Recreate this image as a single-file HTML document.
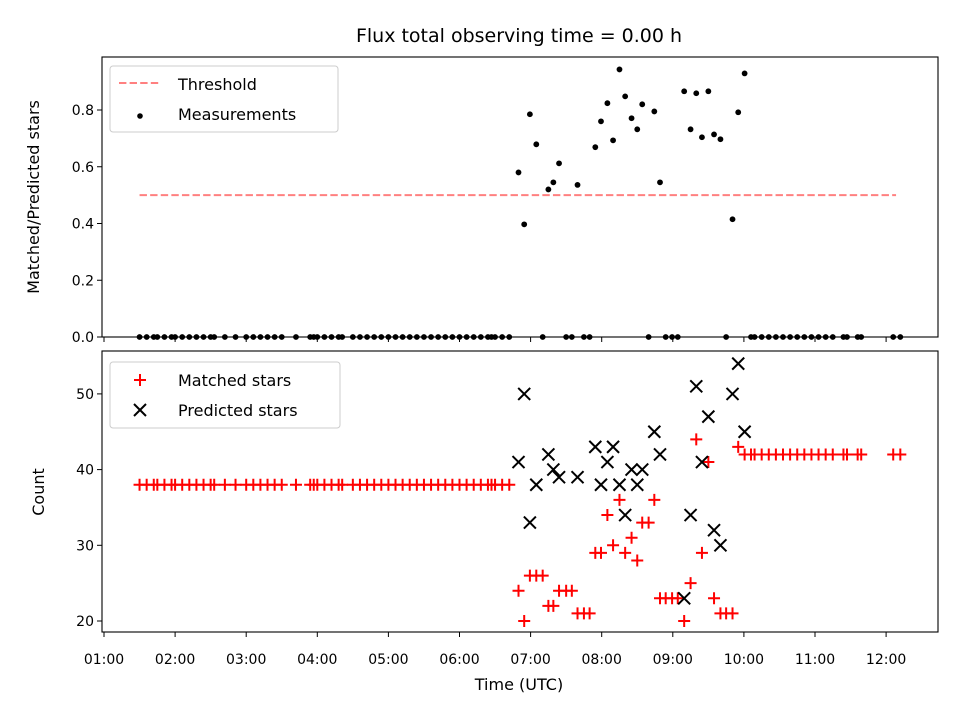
<!DOCTYPE html>
<html><head><meta charset="utf-8"><style>
body{margin:0;background:#fff;}
svg{display:block;font-family:"DejaVu Sans","Liberation Sans",sans-serif;}
</style></head><body>
<svg id="chart" width="960" height="720" viewBox="0 0 960 720"></svg>
<script>
// Observation times (hours UTC)
const times = [1.5,1.6,1.7,1.75,1.85,1.95,2.0,2.1,2.2,2.3,2.4,2.5,2.55,2.7,2.85,3.0,3.1,3.2,3.3,3.4,3.5,3.7,3.9,3.95,4.0,4.1,4.2,4.3,4.35,4.5,4.6,4.7,4.8,4.9,5.0,5.1,5.2,5.3,5.4,5.5,5.6,5.7,5.8,5.9,6.0,6.1,6.2,6.3,6.4,6.45,6.5,6.6,6.7,
 6.83,6.91,6.99,7.08,7.17,7.25,7.32,7.40,7.50,7.58,7.66,7.75,7.83,7.91,7.99,8.08,8.16,8.25,8.33,8.42,8.50,8.57,8.66,8.74,8.82,8.90,8.99,9.07,9.16,9.25,9.33,9.41,9.50,9.58,9.67,9.75,9.84,9.92,10.01,
 10.1,10.15,10.25,10.35,10.45,10.55,10.65,10.75,10.85,10.95,11.05,11.15,11.25,11.4,11.45,11.6,11.65,12.1,12.2];
const matched = [38,38,38,38,38,38,38,38,38,38,38,38,38,38,38,38,38,38,38,38,38,38,38,38,38,38,38,38,38,38,38,38,38,38,38,38,38,38,38,38,38,38,38,38,38,38,38,38,38,38,38,38,38,
 24,20,26,26,26,22,22,24,24,24,21,21,21,29,29,34,30,36,29,31,28,33,33,36,23,23,23,23,20,25,44,29,41,23,21,21,21,43,42,
 42,42,42,42,42,42,42,42,42,42,42,42,42,42,42,42,42,42,42];
const predicted = [null,null,null,null,null,null,null,null,null,null,null,null,null,null,null,null,null,null,null,null,null,null,null,null,null,null,null,null,null,null,null,null,null,null,null,null,null,null,null,null,null,null,null,null,null,null,null,null,null,null,null,null,null,
 41,50,33,38,null,42,40,39,null,null,39,null,null,43,38,41,43,38,34,40,38,40,null,45,42,null,null,null,23,34,51,41,47,32,30,null,50,54,45,
 null,null,null,null,null,null,null,null,null,null,null,null,null,null,null,null,null,null,null];
const ratio = [0,0,0,0,0,0,0,0,0,0,0,0,0,0,0,0,0,0,0,0,0,0,0,0,0,0,0,0,0,0,0,0,0,0,0,0,0,0,0,0,0,0,0,0,0,0,0,0,0,0,0,0,0,
 0.580,0.397,0.785,0.679,0,0.52,0.545,0.612,0,0,0.536,0,0,0.669,0.760,0.824,0.693,0.943,0.848,0.771,0.732,0.820,0,0.795,0.545,0,0,0,0.866,0.732,0.859,0.704,0.866,0.714,0.697,0,0.415,0.792,0.929,
 0,0,0,0,0,0,0,0,0,0,0,0,0,0,0,0,0,0,0];
const threshold = 0.5;
const xTicks = [1,2,3,4,5,6,7,8,9,10,11,12];
const topTicks = [0,0.2,0.4,0.6,0.8];
const botTicks = [20,30,40,50];

const NS="http://www.w3.org/2000/svg";
const svg=document.getElementById('chart');
function mk(tag,attrs,parent){const e=document.createElementNS(NS,tag);for(const k in attrs)e.setAttribute(k,attrs[k]);(parent||svg).appendChild(e);return e;}
const L=102,R=938, T1=57,B1=337, T2=351,B2=632;
const xs=h=>104+(h-1)*71.1;
const y1=v=>337-v*283.75;
const y2=v=>621-(v-20)*7.57;
const pad=n=>String(n).padStart(2,'0');

// title
let t=mk('text',{x:519,y:42,'text-anchor':'middle','font-size':19});
t.textContent='Flux total observing time = 0.00 h';



// top panel
const gTop=mk('g',{});


let thr=mk('line',{x1:xs(1.5),x2:xs(12.14),y1:y1(threshold),y2:y1(threshold),stroke:'#ff8080','stroke-width':2,'stroke-dasharray':'7.4,3.2'},gTop);


times.forEach((h,i)=>{
  const c=mk('circle',{cx:xs(h),cy:y1(ratio[i]),r:2.9,fill:'#000'},gTop);
  
  
});
let f1=mk('rect',{x:L,y:T1,width:R-L,height:B1-T1,fill:'none',stroke:'#000','stroke-width':1.1},gTop);


topTicks.forEach(v=>{
  mk('line',{x1:L-5,x2:L,y1:y1(v),y2:y1(v),stroke:'#000','stroke-width':1},gTop);
  const tx=mk('text',{x:L-8,y:y1(v)+5,'text-anchor':'end','font-size':14},gTop);
  tx.textContent=v.toFixed(1);
  
  
});
xTicks.forEach(h=>mk('line',{x1:xs(h),x2:xs(h),y1:B1,y2:B1+5,stroke:'#000','stroke-width':1},gTop));
let yl1=mk('text',{x:39,y:197,'text-anchor':'middle','font-size':16,transform:'rotate(-90 39 197)'});
yl1.textContent='Matched/Predicted stars';


// top legend
const lg1=mk('g',{});


mk('rect',{x:110,y:66,width:228,height:66,rx:3,fill:'#fff',stroke:'#ccc','stroke-width':1},lg1);
mk('line',{x1:119,x2:161,y1:83,y2:83,stroke:'#ff8080','stroke-width':2,'stroke-dasharray':'7.4,3.2'},lg1);
let lt=mk('text',{x:178,y:90,'font-size':16},lg1);lt.textContent='Threshold';


mk('circle',{cx:140,cy:116,r:2.8,fill:'#000'},lg1);
lt=mk('text',{x:178,y:120,'font-size':16},lg1);lt.textContent='Measurements';



// bottom panel
const gBot=mk('g',{});


function plus(x,y,p,col){mk('path',{d:`M${x-6},${y}H${x+6}M${x},${y-6}V${y+6}`,stroke:col,'stroke-width':2,fill:'none'},p);}
function cross(x,y,p){mk('path',{d:`M${x-6},${y-6}L${x+6},${y+6}M${x-6},${y+6}L${x+6},${y-6}`,stroke:'#000','stroke-width':2,fill:'none'},p);}
const gm=mk('g',{},gBot);


times.forEach((h,i)=>plus(xs(h),y2(matched[i]),gm,'#ff0000'));
const gp=mk('g',{},gBot);


times.forEach((h,i)=>{if(predicted[i]!=null)cross(xs(h),y2(predicted[i]),gp);});
let f2=mk('rect',{x:L,y:T2,width:R-L,height:B2-T2,fill:'none',stroke:'#000','stroke-width':1.1},gBot);


botTicks.forEach(v=>{
  mk('line',{x1:L-5,x2:L,y1:y2(v),y2:y2(v),stroke:'#000','stroke-width':1},gBot);
  const tx=mk('text',{x:L-8,y:y2(v)+5,'text-anchor':'end','font-size':14},gBot);
  tx.textContent=v;
  
  
});
xTicks.forEach(h=>{
  mk('line',{x1:xs(h),x2:xs(h),y1:B2,y2:B2+5,stroke:'#000','stroke-width':1},gBot);
  const tx=mk('text',{x:xs(h),y:B2+32,'text-anchor':'middle','font-size':14},gBot);
  tx.textContent=pad(h)+':00';
  
  
});
let yl2=mk('text',{x:44,y:492,'text-anchor':'middle','font-size':16,transform:'rotate(-90 44 492)'});
yl2.textContent='Count';


let xl=mk('text',{x:519,y:690,'text-anchor':'middle','font-size':16});
xl.textContent='Time (UTC)';


// bottom legend
const lg2=mk('g',{});


mk('rect',{x:110,y:362,width:230,height:66,rx:3,fill:'#fff',stroke:'#ccc','stroke-width':1},lg2);
plus(140,380,lg2,'#ff0000');
lt=mk('text',{x:178,y:386,'font-size':16},lg2);lt.textContent='Matched stars';


cross(140,410,lg2);
lt=mk('text',{x:178,y:416,'font-size':16},lg2);lt.textContent='Predicted stars';


</script>
</body></html>
